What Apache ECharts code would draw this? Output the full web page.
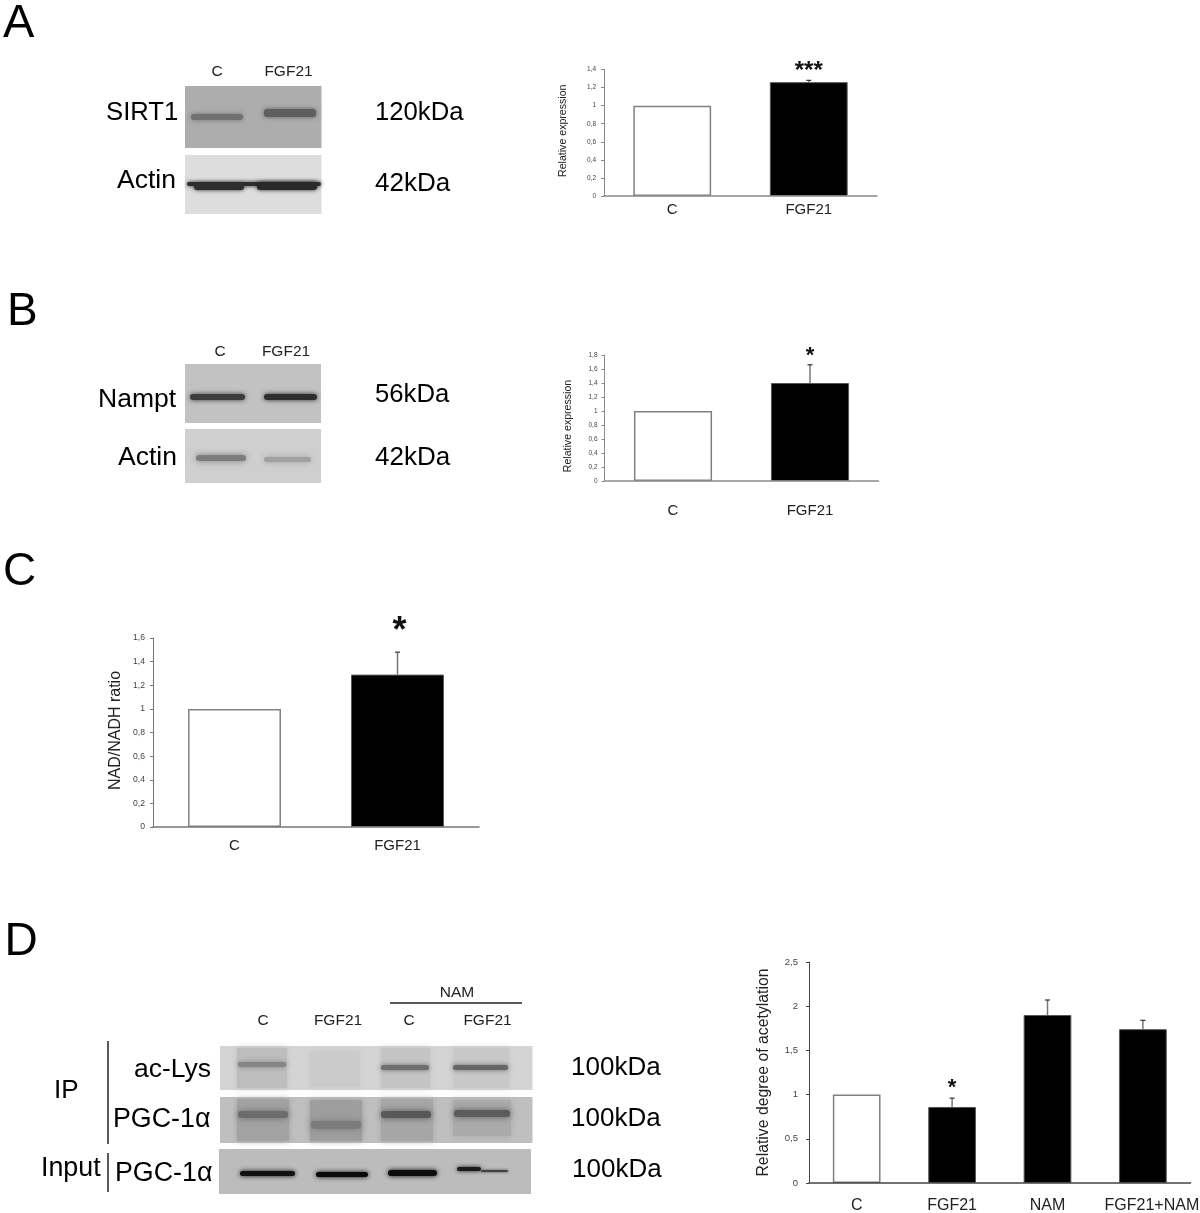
<!DOCTYPE html>
<html>
<head>
<meta charset="utf-8">
<style>html,body{margin:0;padding:0;background:#fff}#main{width:1200px;height:1213px}#main canvas{filter:blur(0.45px)}</style>
<script src="https://cdn.jsdelivr.net/npm/echarts@6/dist/echarts.min.js"></script>
</head>
<body>
<div id="main"></div>
<script>
// ---- chart data ----
var catsTwo = ['C', 'FGF21'];
var catsFour = ['C', 'FGF21', 'NAM', {value: 'FGF21+NAM', textStyle: {padding: [0, 0, 0, 18]}}];
var valuesA = [1, 1.26];
var errTopA = [null, 1.28];
var starsA = [null, '***'];
var starAtA = [null, 1.38];
var valuesB = [1, 1.4];
var errTopB = [null, 1.66];
var starsB = [null, '*'];
var starAtB = [null, 1.78];
var valuesC = [1, 1.29];
var errTopC = [null, 1.48];
var starsC = [null, '*'];
var starAtC = [null, 1.647];
var valuesD = [1, 0.86, 1.9, 1.74];
var errTopD = [null, 0.96, 2.07, 1.84];
var starsD = [null, '*', null, null];
var starAtD = [null, 1.075, null, null];
var nameA = 'Relative expression';
var nameB = 'Relative expression';
var nameC = 'NAD/NADH ratio';
var nameD = 'Relative degree of acetylation';

var FONT = '"Liberation Sans", Arial, sans-serif';

function panel(i, cfg) {
  return {
    grid: {left: cfg.left, width: cfg.width, top: cfg.top, height: cfg.height, containLabel: false, outerBoundsMode: 'none'},
    xAxis: {
      gridIndex: i, type: 'category', data: cfg.cats, z: 6,
      axisLine: {lineStyle: {color: cfg.axisColor, width: 1.5}},
      axisTick: {show: false},
      axisLabel: {color: '#222', fontFamily: FONT, fontSize: cfg.catSize, margin: cfg.catMargin, interval: 0, hideOverlap: false}
    },
    yAxis: {
      gridIndex: i, type: 'value', min: 0, max: cfg.max, interval: cfg.interval,
      name: cfg.name, nameLocation: 'middle', nameRotate: 90, nameGap: cfg.nameGap,
      nameTextStyle: {color: '#222', fontFamily: FONT, fontSize: cfg.nameSize, padding: cfg.namePadding},
      splitLine: {show: false},
      axisLine: {show: true, lineStyle: {color: cfg.axisColor, width: 1}},
      axisTick: {show: true, length: 3, lineStyle: {color: cfg.axisColor}},
      axisLabel: {color: '#444', fontFamily: FONT, fontSize: cfg.tickSize, margin: cfg.tickMargin,
        formatter: function (v) { return String(+v.toFixed(1)).replace('.', ','); }}
    },
    series: [{
      type: 'bar', xAxisIndex: i, yAxisIndex: i, barWidth: cfg.barWidth, silent: true,
      data: cfg.values.map(function (v, k) {
        return {value: v, itemStyle: k === 0
          ? {color: '#fff', borderColor: '#808080', borderWidth: 1.5}
          : {color: '#000', borderColor: '#555', borderWidth: 1}};
      })
    }, {
      type: 'custom', xAxisIndex: i, yAxisIndex: i, silent: true, clip: false, z: 5,
      data: cfg.values.map(function (v, k) { return [k, cfg.errTop[k] == null ? v : cfg.errTop[k]]; }),
      encode: {x: 0, y: 1},
      renderItem: function (params, api) {
        var k = api.value(0), kids = [];
        if (cfg.errTop[k] != null) {
          var a = api.coord([k, cfg.values[k]]), b = api.coord([k, cfg.errTop[k]]);
          kids.push({type: 'line', shape: {x1: a[0], y1: a[1], x2: b[0], y2: b[1]}, style: {stroke: '#777', lineWidth: 1.5}});
          kids.push({type: 'line', shape: {x1: b[0] - 2.5, y1: b[1], x2: b[0] + 2.5, y2: b[1]}, style: {stroke: '#333', lineWidth: 1.2}});
        }
        if (cfg.stars[k]) {
          var s = api.coord([k, cfg.starAt[k]]);
          kids.push({type: 'text', x: s[0] + cfg.starDx, y: s[1], style: {text: cfg.stars[k], fill: '#111', fontFamily: FONT,
            fontSize: cfg.starSize, fontWeight: 'bold', align: 'center', verticalAlign: 'middle'}});
        }
        return {type: 'group', children: kids};
      }
    }]
  };
}

var panels = [
  panel(0, {left: 604, width: 273, top: 69.5, height: 126.5, cats: catsTwo, values: valuesA, errTop: errTopA, stars: starsA, starAt: starAtA,
    max: 1.4, interval: 0.2, name: nameA, nameGap: 35, nameSize: 10.6, namePadding: [0, 0, 0, 4], tickSize: 6.5, tickMargin: 8, catMargin: 6, catSize: 15,
    barWidth: '57%', axisColor: '#8a8a8a', starSize: 24, starDx: 0}),
  panel(1, {left: 604.5, width: 274, top: 355, height: 126, cats: catsTwo, values: valuesB, errTop: errTopB, stars: starsB, starAt: starAtB,
    max: 1.8, interval: 0.2, name: nameB, nameGap: 31, nameSize: 10.6, namePadding: [0, 16, 0, 0], tickSize: 6.5, tickMargin: 7, catMargin: 22, catSize: 15,
    barWidth: '57%', axisColor: '#8a8a8a', starSize: 22, starDx: 0}),
  panel(2, {left: 153, width: 326, top: 638, height: 189, cats: catsTwo, values: valuesC, errTop: errTopC, stars: starsC, starAt: starAtC,
    max: 1.6, interval: 0.2, name: nameC, nameGap: 29, nameSize: 16, namePadding: [0, 0, 0, 4], tickSize: 8.6, tickMargin: 8, catMargin: 11, catSize: 15,
    barWidth: '57%', axisColor: '#777', starSize: 36, starDx: 2}),
  panel(3, {left: 809, width: 381.6, top: 962, height: 221, cats: catsFour, values: valuesD, errTop: errTopD, stars: starsD, starAt: starAtD,
    max: 2.5, interval: 0.5, name: nameD, nameGap: 37, nameSize: 15.8, namePadding: [0, 0, 0, 0], tickSize: 9.5, tickMargin: 11, catMargin: 15, catSize: 16,
    barWidth: '50%', axisColor: '#444', starSize: 22, starDx: 0})
];

// ---- western-blot panels, labels (decoration, not data) ----
var deco = [];
function rect(x, y, w, h, fill, blur, r) {
  deco.push({type: 'rect', silent: true, shape: {x: x, y: y, width: w, height: h, r: r || 0},
    style: {fill: fill, shadowBlur: blur || 0, shadowColor: blur ? fill : 'transparent'}});
}
function label(t, x, y, size, align, color) {
  deco.push({type: 'text', silent: true, x: x, y: y + 1.2, style: {text: t, fill: color || '#000', fontFamily: FONT, fontSize: size,
    align: align || 'left', verticalAlign: 'middle'}});
}
function vline(x, y1, y2, c, w) {
  deco.push({type: 'line', silent: true, shape: {x1: x, y1: y1, x2: x, y2: y2}, style: {stroke: c, lineWidth: w}});
}
function hline(x1, x2, y, c, w) {
  deco.push({type: 'line', silent: true, shape: {x1: x1, y1: y, x2: x2, y2: y}, style: {stroke: c, lineWidth: w}});
}

// Panel letters
label('A', 3, 23, 47); label('B', 7, 311, 46); label('C', 3, 571, 46); label('D', 4.5, 941, 46);

// A blots
rect(185, 86, 136.5, 62, '#adadad');
rect(191, 114, 52, 6, '#707070', 5, 3);
rect(264, 109, 52, 8, '#5e5e5e', 5, 3);
rect(185, 155, 136.5, 59, '#dddddd');
rect(187, 182, 134, 4, '#2e2e2e', 4, 2);
rect(194, 184, 50, 6, '#2e2e2e', 4, 3);
rect(257, 182, 60, 8, '#2a2a2a', 4, 3);
label('C', 217, 71, 15.5, 'center', '#222'); label('FGF21', 288.5, 71, 15.5, 'center', '#222');
label('SIRT1', 106, 112, 25.7); label('Actin', 117, 179, 26.5);
label('120kDa', 375, 112, 25.7); label('42kDa', 375, 183, 26);

// B blots
rect(185, 364, 136, 59, '#c2c2c2');
rect(190, 394, 55, 6, '#3c3c3c', 5, 3);
rect(264, 394, 53, 6, '#2e2e2e', 5, 3);
rect(185, 429, 136, 54, '#cfcfcf');
rect(196, 455, 50, 6, '#7c7c7c', 6, 3);
rect(264, 457, 47, 5, '#a0a0a0', 6, 3);
label('C', 220, 351, 15.5, 'center', '#222'); label('FGF21', 286, 351, 15.5, 'center', '#222');
label('Nampt', 98, 398, 26.5); label('Actin', 118, 456, 26.5);
label('56kDa', 375, 394, 25.7); label('42kDa', 375, 457, 26);

// D blots
rect(220, 1046, 312.5, 44, '#d4d4d4');
rect(237, 1048, 50, 40, '#bdbdbd', 6);
rect(310, 1051, 50, 36, '#cbcbcb', 6);
rect(381, 1048, 49, 40, '#c4c4c4', 6);
rect(453, 1048, 56, 40, '#c8c8c8', 6);
rect(238, 1062, 48, 5, '#858585', 5, 3);
rect(381, 1065, 48, 5, '#6e6e6e', 5, 3);
rect(453, 1065, 55, 5, '#666666', 5, 3);
rect(220, 1097, 312.5, 46, '#bfbfbf');
rect(237, 1099, 52, 42, '#a2a2a2', 6);
rect(310, 1100, 52, 41, '#9e9e9e', 6);
rect(381, 1099, 52, 42, '#a6a6a6', 6);
rect(453, 1100, 58, 36, '#aaaaaa', 6);
rect(238, 1111, 50, 7, '#6c6c6c', 6, 3);
rect(311, 1121, 50, 8, '#7c7c7c', 6, 3);
rect(381, 1111, 50, 7, '#585858', 6, 3);
rect(454, 1110, 56, 7, '#5c5c5c', 6, 3);
rect(219, 1149, 312, 45, '#bcbcbc');
rect(240, 1171, 55, 5, '#111111', 5, 3);
rect(316, 1172, 52, 5, '#0a0a0a', 5, 3);
rect(388, 1170, 49, 6, '#0c0c0c', 5, 3);
rect(457, 1167, 24, 4, '#1a1a1a', 4, 2);
rect(481, 1170, 27, 2, '#444444', 3, 1);
label('NAM', 457, 992, 15.5, 'center', '#222');
hline(390, 522, 1003, '#222', 1.5);
label('C', 263, 1020, 15.5, 'center', '#222'); label('FGF21', 338, 1020, 15.5, 'center', '#222');
label('C', 409, 1020, 15.5, 'center', '#222'); label('FGF21', 487.5, 1020, 15.5, 'center', '#222');
label('ac-Lys', 134, 1068, 26.5); label('PGC-1\u03b1', 113, 1118, 26.8); label('PGC-1\u03b1', 115, 1172, 26.8);
label('IP', 54, 1090, 26); label('Input', 41, 1167, 26.8);
label('100kDa', 571, 1067, 26); label('100kDa', 571, 1118, 26); label('100kDa', 572, 1169, 26);
vline(108, 1041, 1144, '#222', 1.5);
vline(108, 1153, 1192, '#222', 1.5);

var chart = echarts.init(document.getElementById('main'), null, {width: 1200, height: 1213});
chart.setOption({
  animation: false,
  backgroundColor: '#fff',
  grid: panels.map(function (p) { return p.grid; }),
  xAxis: panels.map(function (p) { return p.xAxis; }),
  yAxis: panels.map(function (p) { return p.yAxis; }),
  series: panels.reduce(function (a, p) { return a.concat(p.series); }, []),
  graphic: {elements: deco}
});
</script>
</body>
</html>
